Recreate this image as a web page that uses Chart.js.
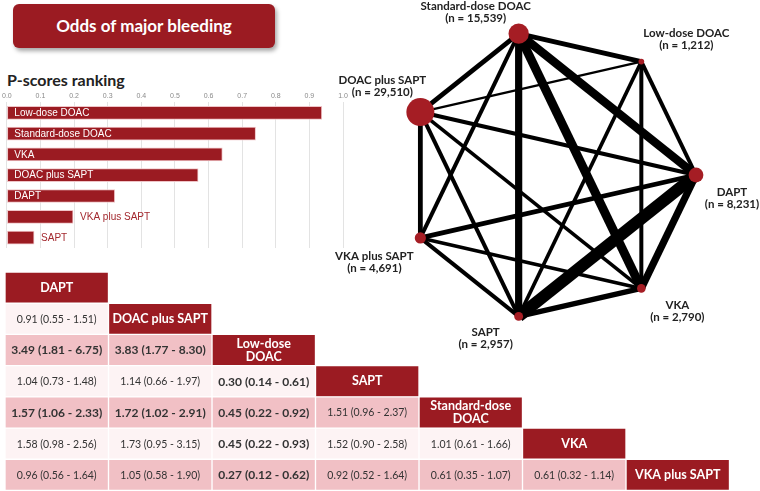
<!DOCTYPE html>
<html>
<head>
<meta charset="utf-8">
<script src="https://cdn.jsdelivr.net/npm/chart.js@4.4.1/dist/chart.umd.min.js"></script>
<style>
body { margin: 0; width: 760px; height: 491px; background: #fff; position: relative; overflow: hidden; font-family: Lato, sans-serif; }
#title { position: absolute; left: 13px; top: 4px; width: 262px; height: 44px; background: #9b1b22; border-radius: 6px;
  box-shadow: 2px 3px 4px rgba(0,0,0,0.35); color: #fff; font-weight: bold; font-size: 17px; line-height: 44px; text-align: center; }
#ptitle { position: absolute; left: 7px; top: 72px; font-weight: bold; font-size: 16px; line-height: 16px; color: #222; }
canvas { position: absolute; }
</style>
</head>
<body>
<div id="title">Odds of major bleeding</div>
<div id="ptitle">P-scores ranking</div>
<canvas id="rank" width="350" height="158" style="left:0;top:90px"></canvas>
<canvas id="net" width="440" height="352" style="left:320px;top:0"></canvas>
<canvas id="league" width="760" height="223" style="left:0;top:268px"></canvas>
<script>
// P-scores ranking
let rankLabels = ['Low-dose DOAC', 'Standard-dose DOAC', 'VKA', 'DOAC plus SAPT', 'DAPT', 'VKA plus SAPT', 'SAPT'];
let rankScores = [0.937, 0.740, 0.641, 0.569, 0.321, 0.197, 0.081];
let rankTicks = [0, 0.1, 0.2, 0.3, 0.4, 0.5, 0.6, 0.7, 0.8, 0.9, 1.0];

// network: nodes, sample sizes, heptagon layout
let nodeNames = ['DAPT', 'Low-dose DOAC', 'Standard-dose DOAC', 'DOAC plus SAPT', 'VKA plus SAPT', 'SAPT', 'VKA'];
let nodeN = [8231, 1212, 15539, 29510, 4691, 2957, 2790];
let nodeX = [1.000, 0.623, -0.223, -0.901, -0.901, -0.223, 0.623];
let nodeY = [0.000, 0.782, 0.975, 0.434, -0.434, -0.975, -0.782];

// network edges (node index pairs) and line weights
let edgeFrom = [2, 2, 2, 2, 2, 2, 1, 1, 1, 1, 0, 0, 0, 0, 6, 6, 6, 5, 5, 4];
let edgeTo   = [1, 0, 6, 5, 4, 3, 3, 0, 6, 5, 3, 4, 5, 6, 5, 4, 3, 4, 3, 3];
let edgeWeight = [4.8, 8.4, 9, 7.2, 4, 4.8, 2.4, 4, 4, 3.6, 4.2, 4.8, 12, 7.2, 5.4, 3.6, 3.6, 4, 4, 4.8];

// league table
let leagueHeads = [['DAPT'], ['DOAC plus SAPT'], ['Low-dose', 'DOAC'], ['SAPT'], ['Standard-dose', 'DOAC'], ['VKA'], ['VKA plus SAPT']];
let orEst  = [[0.91], [3.49, 3.83], [1.04, 1.14, 0.30], [1.57, 1.72, 0.45, 1.51], [1.58, 1.73, 0.45, 1.52, 1.01], [0.96, 1.05, 0.27, 0.92, 0.61, 0.61]];
let orLow  = [[0.55], [1.81, 1.77], [0.73, 0.66, 0.14], [1.06, 1.02, 0.22, 0.96], [0.98, 0.95, 0.22, 0.90, 0.61], [0.56, 0.58, 0.12, 0.52, 0.35, 0.32]];
let orHigh = [[1.51], [6.75, 8.30], [1.48, 1.97, 0.61], [2.33, 2.91, 0.92, 2.37], [2.56, 3.15, 0.93, 2.58, 1.66], [1.64, 1.90, 0.62, 1.64, 1.07, 1.14]];

const RED = '#9b1b22';
const NODE = '#a51d24';
const PINK = '#f1c0c5';
const LIGHT = '#fdf3f4';

const barLabels = {
    id: 'barLabels',
    afterDatasetsDraw(chart) {
        const ctx = chart.ctx;
        ctx.save();
        ctx.font = '10px "Liberation Sans", Arial, sans-serif';
        ctx.textBaseline = 'middle';
        chart.getDatasetMeta(0).data.forEach(function(bar, i) {
            const text = chart.data.labels[i];
            const w = ctx.measureText(text).width;
            if (w + 14 < bar.x - bar.base) {
                ctx.fillStyle = '#fff';
                ctx.fillText(text, bar.base + 7, bar.y + 0.5);
            } else {
                ctx.fillStyle = '#a3282e';
                ctx.fillText(text, bar.x + 7, bar.y + 0.5);
            }
        });
        ctx.restore();
    }
};

new Chart(document.getElementById('rank'), {
    type: 'bar',
    data: {
        labels: rankLabels,
        datasets: [{
            data: rankScores,
            backgroundColor: RED,
            borderColor: '#efc4c7',
            borderWidth: 1,
            borderSkipped: false,
            barThickness: 13
        }]
    },
    options: {
        indexAxis: 'y',
        responsive: false,
        animation: false,
        layout: { padding: { left: 6, right: 7, top: 0, bottom: 0 } },
        plugins: { legend: { display: false }, tooltip: { enabled: false } },
        scales: {
            x: {
                position: 'top',
                min: 0,
                max: 1,
                afterBuildTicks: function(axis) {
                    axis.ticks = rankTicks.map(v => ({ value: v }));
                },
                ticks: {
                    font: { size: 7, family: 'Liberation Sans' },
                    color: '#8a8a8a',
                    padding: 2,
                    callback: function(value) { return Number(value).toFixed(1); }
                },
                grid: { color: '#e3e3e3', drawTicks: false },
                border: { display: false }
            },
            y: { display: false }
        }
    },
    plugins: [barLabels]
});

// network offsets for labels (pixels from node)
const labelDx = [36, 45, -43, -38, -46, -33, 36];
const labelDy = [17, -28, -27, -32, 18, 16, 17];

const netLabels = {
    id: 'netLabels',
    afterDatasetsDraw(chart) {
        const ctx = chart.ctx;
        const meta = chart.getDatasetMeta(0);
        ctx.save();
        ctx.font = 'bold 11.5px Lato, sans-serif';
        ctx.fillStyle = '#222';
        ctx.textAlign = 'center';
        ctx.textBaseline = 'middle';
        meta.data.forEach(function(pt, i) {
            const x = pt.x + labelDx[i], y = pt.y + labelDy[i];
            ctx.fillText(nodeNames[i], x, y);
            ctx.fillText('(n = ' + nodeN[i].toLocaleString('en-US') + ')', x, y + 12);
        });
        ctx.restore();
    }
};

let netSets = [{
    data: nodeX.map((x, i) => ({ x: x, y: nodeY[i] })),
    pointRadius: nodeN.map(n => 0.0815 * Math.sqrt(n)),
    pointBackgroundColor: NODE,
    pointBorderWidth: 0,
    showLine: false,
    order: 0,
    clip: false
}];
for (let k = 0; k < edgeFrom.length; k++) {
    let a = edgeFrom[k], b = edgeTo[k];
    netSets.push({
        data: [{ x: nodeX[a], y: nodeY[a] }, { x: nodeX[b], y: nodeY[b] }],
        showLine: true,
        borderColor: '#000',
        borderWidth: edgeWeight[k],
        pointRadius: 0,
        order: 1,
        clip: false
    });
}

new Chart(document.getElementById('net'), {
    type: 'scatter',
    data: { datasets: netSets },
    options: {
        responsive: false,
        animation: false,
        layout: { padding: 0, autoPadding: false },
        plugins: { legend: { display: false }, tooltip: { enabled: false } },
        scales: {
            x: { display: false, min: -231 / 145, max: 209 / 145 },
            y: { display: false, min: -177 / 145, max: 175 / 145 }
        }
    },
    plugins: [netLabels]
});

// league table drawn as floating bars, one dataset per column
const leagueText = {
    id: 'leagueText',
    afterDatasetsDraw(chart) {
        const ctx = chart.ctx;
        ctx.save();
        ctx.textAlign = 'center';
        ctx.textBaseline = 'middle';
        chart.data.datasets.forEach(function(ds, j) {
            chart.getDatasetMeta(j).data.forEach(function(bar, i) {
                if (i < j) return;
                const cx = (bar.x + bar.base) / 2, cy = bar.y;
                if (i === j) {
                    ctx.fillStyle = '#fff';
                    ctx.font = 'bold 12.5px Lato, sans-serif';
                    const lines = leagueHeads[i];
                    lines.forEach(function(t, k) {
                        ctx.fillText(t, cx, cy + (k - (lines.length - 1) / 2) * 13);
                    });
                } else {
                    const est = orEst[i - 1][j], lo = orLow[i - 1][j], hi = orHigh[i - 1][j];
                    const sig = lo > 1 || hi < 1;
                    ctx.fillStyle = '#333';
                    ctx.font = sig ? 'bold 12px Lato, sans-serif' : '10.5px Lato, sans-serif';
                    ctx.fillText(est.toFixed(2) + ' (' + lo.toFixed(2) + ' - ' + hi.toFixed(2) + ')', cx, cy + 0.5);
                }
            });
        });
        ctx.restore();
    }
};

let leagueSets = leagueHeads.map(function(h, j) {
    return {
        data: leagueHeads.map((_, i) => i >= j ? [j, j + 1] : null),
        backgroundColor: leagueHeads.map((_, i) => i === j ? RED : (i % 2 === 0 ? PINK : LIGHT)),
        borderColor: '#fff',
        borderWidth: 1,
        borderSkipped: false,
        grouped: false,
        barPercentage: 1,
        categoryPercentage: 1
    };
});

new Chart(document.getElementById('league'), {
    type: 'bar',
    data: { labels: leagueHeads.map(h => h.join(' ')), datasets: leagueSets },
    options: {
        indexAxis: 'y',
        responsive: false,
        animation: false,
        layout: { padding: { left: 5, right: 30.5, top: 4, bottom: 0.5 } },
        plugins: { legend: { display: false }, tooltip: { enabled: false } },
        scales: {
            x: { type: 'linear', display: false, min: 0, max: 7 },
            y: { display: false }
        }
    },
    plugins: [leagueText]
});
</script>
</body>
</html>
